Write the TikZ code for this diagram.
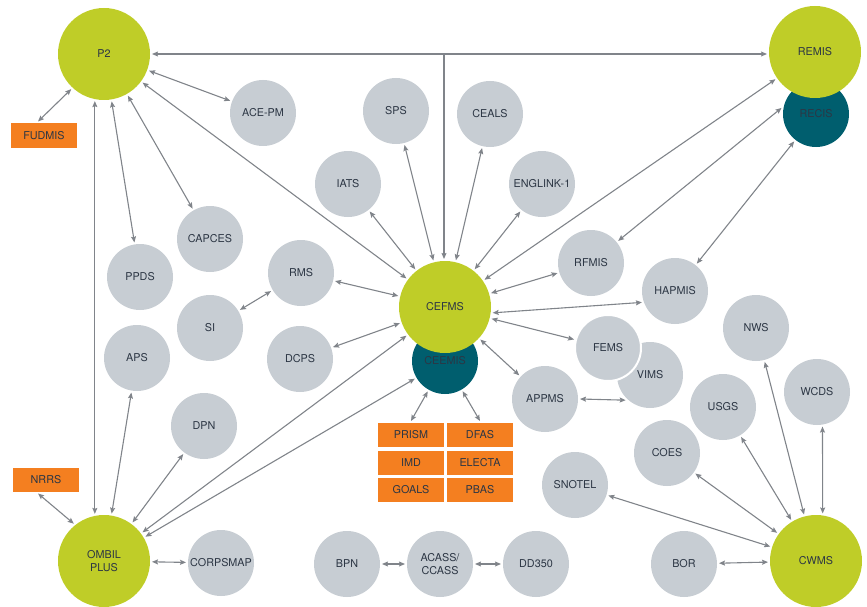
\documentclass[tikz,border=0pt]{standalone}
\usepackage{fontspec}
\setmainfont{TeX Gyre Heros}
\usetikzlibrary{arrows.meta}
\definecolor{sysgreen}{RGB}{191,205,40}
\definecolor{systeal}{RGB}{0,94,110}
\definecolor{sysgray}{RGB}{199,205,211}
\definecolor{sysorange}{RGB}{244,127,32}
\definecolor{systext}{RGB}{44,54,68}
\definecolor{syslink}{RGB}{128,132,138}

\begin{document}
\begin{tikzpicture}[x=1pt,y=-1pt,
  font=\fontsize{10.8}{13}\selectfont,
  big/.style={circle,fill=sysgreen,minimum size=92pt,inner sep=0pt,outer sep=2pt,text=systext,align=center},
  small/.style={circle,fill=sysgray,minimum size=66pt,inner sep=0pt,outer sep=2pt,text=systext,align=center},
  dark/.style={small,fill=systeal},
  ext/.style={rectangle,fill=sysorange,minimum width=66pt,minimum height=24pt,inner sep=0pt,outer sep=2pt,text=systext},
  conn/.style={draw=syslink,line width=1.1pt,{Stealth[length=6pt,width=5pt,inset=1pt]}-{Stealth[length=6pt,width=5pt,inset=1pt]}},
  feed/.style={draw=syslink,line width=1.1pt,-{Stealth[length=6pt,width=5pt,inset=1pt]}}]
\useasboundingbox (0,0) rectangle (867,607);

\node[big] (p2) at (104,54) {P2};
\node[dark] (recis) at (816,114) {RECIS};
\node[big] (remis) at (815,52) {REMIS};
\node[ext] (fudmis) at (44,135.5) {FUDMIS};
\node[small] (acepm) at (263,113) {ACE-PM};
\node[small] (sps) at (396,111) {SPS};
\node[small] (ceals) at (490,114) {CEALS};
\node[small] (iats) at (348,184) {IATS};
\node[small] (englink) at (542,184) {ENGLINK-1};
\node[small] (capces) at (210,239) {CAPCES};
\node[small] (ppds) at (140,277) {PPDS};
\node[small] (rms) at (301,273) {RMS};
\node[small] (si) at (210,328) {SI};
\node[small] (aps) at (137,358) {APS};
\node[small] (dcps) at (300,359) {DCPS};
\node[dark] (ceemis) at (445,361) {CEEMIS};
\node[big] (cefms) at (445,307) {CEFMS};
\node[small] (rfmis) at (591,263) {RFMIS};
\node[small] (hapmis) at (675,291) {HAPMIS};
\node[small] (vims) at (650,375) {VIMS};
\node[small,draw=white,line width=2pt] (fems) at (608,348) {FEMS};
\node[small] (appms) at (545,399) {APPMS};
\node[small] (nws) at (756,328) {NWS};
\node[small] (wcds) at (817,392) {WCDS};
\node[small] (usgs) at (723,407) {USGS};
\node[small] (coes) at (667,453) {COES};
\node[small] (snotel) at (575,485) {SNOTEL};
\node[small] (dpn) at (204,426) {DPN};
\node[ext] (nrrs) at (46,479.5) {NRRS};
\node[big] (ombil) at (104,561) {OMBIL\\PLUS};
\node[small] (corpsmap) at (221,563) {CORPSMAP};
\node[small] (bpn) at (347,564) {BPN};
\node[small] (acass) at (440,564) {ACASS/\\CCASS};
\node[small] (dd350) at (536,564) {DD350};
\node[small] (bor) at (684,564) {BOR};
\node[big] (cwms) at (816,561) {CWMS};

\node[ext] (prism) at (411,435) {PRISM};
\node[ext] (dfas) at (480,435) {DFAS};
\node[ext] (imd) at (411,463) {IMD};
\node[ext] (electa) at (480,463) {ELECTA};
\node[ext] (goals) at (411,490) {GOALS};
\node[ext] (pbas) at (480,490) {PBAS};

\coordinate (top) at (444,54);
\draw[feed] (top) -- (top -| p2.east);
\draw[feed] (top) -- (top -| remis.west);
\draw[feed] (top) -- (top |- cefms.north);

\draw[conn] ([xshift=-6pt]fudmis.north) -- (p2.227);
\draw[conn] (p2) -- (acepm);
\draw[conn] (p2) -- (capces);
\draw[conn] (p2) -- (ppds);
\draw[conn] (p2.-101) -- (ombil.101);
\draw[conn] (p2) -- (cefms);

\draw[conn] (iats) -- (cefms);
\draw[conn] (sps) -- (cefms);
\draw[conn] (ceals) -- (cefms);
\draw[conn] (englink) -- (cefms);
\draw[conn] (rms) -- (cefms);
\draw[conn] (dcps) -- (cefms);
\draw[conn] (si) -- (rms);
\draw[conn] (remis) -- (cefms);
\draw[conn] (rfmis) -- (cefms);
\draw[conn] (cefms.-7) -- (hapmis.199);
\draw[conn] (cefms) -- (fems);
\draw[conn] (cefms) -- (appms);
\draw[conn] (appms.east) -- (vims.226);
\draw[conn] (rfmis) -- (recis.170);
\draw[conn] (hapmis) -- (recis);

\draw[conn] (ceemis) -- (prism.north);
\draw[conn] (ceemis) -- (dfas.north);

\draw[conn] ([xshift=-8pt]nrrs.south) -- (ombil.129);
\draw[conn] (aps) -- (ombil);
\draw[conn] (dpn) -- (ombil);
\draw[conn] (ombil) -- (cefms);
\draw[conn] (ombil) -- (ceemis);
\draw[conn] (ombil) -- (corpsmap);
\draw[conn] (bpn) -- (acass);
\draw[conn] (acass) -- (dd350);

\draw[conn] (snotel) -- (cwms);
\draw[conn] (coes) -- (cwms);
\draw[conn] (usgs) -- (cwms);
\draw[conn] (nws) -- (cwms);
\draw[conn] (wcds.-81) -- (cwms.82);
\draw[conn] (bor) -- (cwms);
\end{tikzpicture}
\end{document}
